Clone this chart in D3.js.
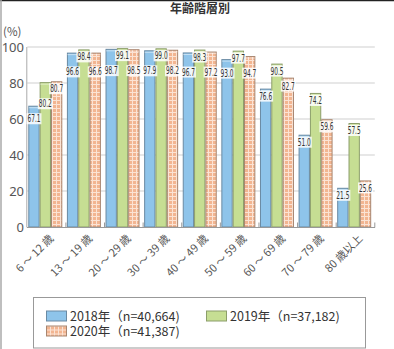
<!DOCTYPE html>
<html><head><meta charset="utf-8">
<script src="https://cdn.jsdelivr.net/npm/d3@7/dist/d3.min.js"></script>
<style>body{margin:0;background:#fff}svg{display:block;font-family:"Noto Sans CJK JP","Noto Sans",sans-serif}</style>
</head><body>
<script>
const title = "年齢階層別";
const categories = ["6 ～ 12 歳","13 ～ 19 歳","20 ～ 29 歳","30 ～ 39 歳","40 ～ 49 歳","50 ～ 59 歳","60 ～ 69 歳","70 ～ 79 歳","80 歳以上"];
const seriesNames = ["2018年（n=40,664)","2019年（n=37,182)","2020年（n=41,387)"];
const v2018 = [67.1,96.6,98.7,97.9,96.7,93.0,76.6,51.0,21.5];
const v2019 = [80.2,98.4,99.1,99.0,98.3,97.7,90.5,74.2,57.5];
const v2020 = [80.7,96.6,98.5,98.2,97.2,94.7,82.7,59.6,25.6];
const yTicks = [0,20,40,60,80,100];

const W=394,H=349;
const svg=d3.select("body").append("svg").attr("width",W).attr("height",H);
svg.append("rect").attr("width",W).attr("height",H).attr("fill","#fff");
const defs=svg.append("defs");
const pat=defs.append("pattern").attr("id","chk").attr("patternUnits","userSpaceOnUse").attr("width",4).attr("height",4);
pat.append("rect").attr("width",4).attr("height",4).attr("fill","#f2b591");
pat.append("path").attr("d","M0,0.5H4M0.5,0V4").attr("stroke","#fbe3d4").attr("stroke-width",1);

svg.append("line").attr("x1",0).attr("x2",W).attr("y1",0.5).attr("y2",0.5).attr("stroke","#222").attr("stroke-width",1.5);
svg.append("line").attr("x1",1).attr("x2",1).attr("y1",0).attr("y2",H).attr("stroke","#aaa").attr("stroke-width",1.5);

svg.append("text").attr("x",200).attr("y",12.5).attr("text-anchor","middle").attr("font-size",12).attr("font-weight","bold").attr("fill","#333").text(title);

const x=d3.scaleBand().domain(categories).range([27.3,374.8]);
const y=d3.scaleLinear().domain([0,100]).range([227,47]);
const keys=["a","b","c"];
const xi=d3.scaleBand().domain(keys).range([1,35]);
const fills={a:"#8ec4ea",b:"#c6de93",c:"url(#chk)"};
const strokes={a:"#6a8aa3",b:"#8c9e6a",c:"#a88670"};

svg.append("g").selectAll("line").data(yTicks.filter(d=>d>0)).join("line")
 .attr("x1",27.3).attr("x2",374.8).attr("y1",d=>y(d)).attr("y2",d=>y(d)).attr("stroke","#cfcfcf").attr("stroke-width",1);
svg.append("line").attr("x1",26.8).attr("x2",26.8).attr("y1",y(100)).attr("y2",y(0)).attr("stroke","#aaa");

const ya=svg.append("g").attr("transform","translate(24,0)").call(d3.axisLeft(y).tickValues(yTicks).tickSize(0).tickPadding(0));
ya.select(".domain").remove();
ya.selectAll("text").attr("font-size",13).attr("fill","#555").attr("font-family","'Noto Sans','DejaVu Sans',sans-serif");
svg.append("text").attr("x",3).attr("y",36).attr("font-size",11.5).attr("fill","#555").text("(%)");

const rows=[];
categories.forEach((c,i)=>{
  [["a",v2018[i]],["b",v2019[i]],["c",v2020[i]]].forEach(([k,v])=>rows.push({cat:c,k,v}));
});
const bars=svg.append("g");
bars.selectAll("rect").data(rows).join("rect")
 .attr("x",d=>x(d.cat)+xi(d.k)+0.5).attr("width",xi.bandwidth()-1)
 .attr("y",d=>y(d.v)).attr("height",d=>y(0)-y(d.v))
 .attr("fill",d=>fills[d.k]).attr("stroke",d=>strokes[d.k]).attr("stroke-width",1);
bars.selectAll("line").data(rows).join("line")
 .attr("x1",d=>x(d.cat)+xi(d.k)+0.5).attr("x2",d=>x(d.cat)+xi(d.k)+xi.bandwidth()-0.5)
 .attr("y1",d=>y(d.v)+1.5).attr("y2",d=>y(d.v)+1.5).attr("stroke","#fff").attr("stroke-opacity",0.5);

svg.append("line").attr("x1",26.8).attr("x2",375).attr("y1",227.5).attr("y2",227.5).attr("stroke","#999");
const xa=svg.append("g").attr("transform","translate(0,227.5)");
xa.selectAll("line").data(categories).join("line").attr("x1",d=>x(d)+x.bandwidth()).attr("x2",d=>x(d)+x.bandwidth()).attr("y1",-5).attr("y2",0).attr("stroke","#999");
xa.selectAll("text").data(categories).join("text")
 .attr("transform",d=>`translate(${x(d)+x.bandwidth()/2+5},${9}) rotate(-45)`)
 .attr("text-anchor","end").attr("dy","0.35em").attr("font-size",11).attr("fill","#555").text(d=>d);

const labelRows=[];
categories.forEach((c,i)=>{
  const g=[["a",v2018[i]],["b",v2019[i]],["c",v2020[i]]].map(([k,v])=>({cat:c,k,v,ly:y(v)+7}));
  const gap=15;
  const fix=(p,q)=>{ if(Math.abs(p.ly-q.ly)<gap){ if(p.v<q.v) p.ly=q.ly+gap; else q.ly=p.ly+gap; } };
  fix(g[1],g[2]); fix(g[0],g[1]);
  labelRows.push(...g);
});
const lg=svg.append("g").selectAll("g").data(labelRows).join("g")
 .attr("transform",d=>`translate(${x(d.cat)+xi(d.k)+xi.bandwidth()/2},${d.ly})`);
lg.append("rect").attr("x",-7.5).attr("y",-5.5).attr("width",15).attr("height",11).attr("fill","#fff").attr("fill-opacity",0.85);
lg.append("text").attr("text-anchor","middle").attr("dy","0.36em").attr("font-size",10)
 .attr("font-family","'DejaVu Sans Condensed','Liberation Sans Narrow',sans-serif").attr("fill","#333")
 .attr("textLength",13).attr("lengthAdjust","spacingAndGlyphs").text(d=>d.v.toFixed(1));

svg.append("rect").attr("x",33.5).attr("y",297.5).attr("width",332).attr("height",50.5).attr("fill","#fff").attr("stroke","#999");
const legPos=[[46,310.5],[206,310.5],[46,325.5]];
const lgd=svg.append("g").selectAll("g").data(keys).join("g").attr("transform",(d,i)=>`translate(${legPos[i][0]},${legPos[i][1]})`);
lgd.append("rect").attr("x",0.5).attr("y",0.5).attr("width",20).attr("height",10).attr("fill",d=>fills[d]).attr("stroke",d=>strokes[d]);
lgd.append("text").attr("x",24).attr("y",5.5).attr("dy","0.36em").attr("font-size",12.5).attr("fill","#333").text((d,i)=>seriesNames[i]);
</script>
</body></html>
